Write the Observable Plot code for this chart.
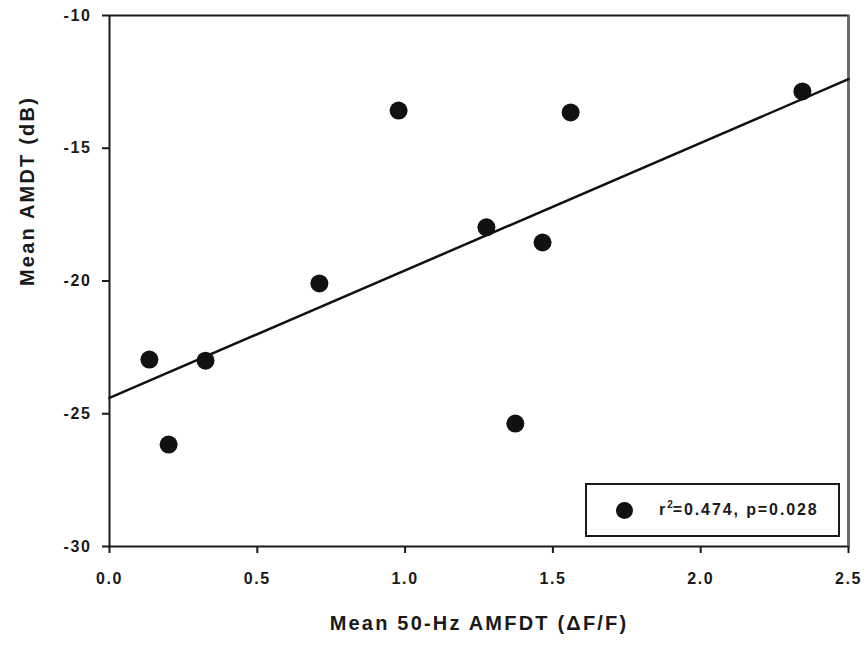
<!DOCTYPE html>
<html>
<head>
<meta charset="utf-8">
<script src="https://cdn.jsdelivr.net/npm/d3@7"></script>
<script src="https://cdn.jsdelivr.net/npm/@observablehq/plot@0.6"></script>
<style>
  body { margin: 0; background: #fff; }
  #wrap { position: relative; width: 867px; height: 650px; font-family: "Liberation Sans", Arial, sans-serif; }
  #wrap svg text { letter-spacing: 1.6px; }
  #wrap svg .ttl text, #wrap svg text.ttl { letter-spacing: 2.2px; }
  #legend {
    position: absolute; left: 585px; top: 483px; width: 251px; height: 50px;
    border: 2px solid #1a1a1a; background: #fff; box-sizing: content-box;
    font-weight: bold; font-size: 16px; color: #1a1a1a; letter-spacing: 1.9px;
  }
  #legend .dot { position: absolute; left: 29px; top: 17px; width: 17px; height: 17px; border-radius: 50%; background: #111; }
  #legend .lbl { position: absolute; left: 72px; top: 15px; white-space: nowrap; }
  #legend sup { font-size: 10px; letter-spacing: 0; position: relative; top: -1px; }
</style>
</head>
<body>
<div id="wrap"></div>
<script>
// Data
const xVals = [0.135, 0.20, 0.325, 0.71, 0.978, 1.275, 1.373, 1.465, 1.56, 2.344];
const yVals = [-22.96, -26.16, -23.0, -20.09, -13.58, -17.98, -25.37, -18.55, -13.65, -12.86];
const fitX = [0, 2.5];
const fitY = [-24.4, -12.4];
const xTicks = [0, 0.5, 1.0, 1.5, 2.0, 2.5];
const yTicks = [-30, -25, -20, -15, -10];
const xTickLabels = ["0.0", "0.5", "1.0", "1.5", "2.0", "2.5"];
const yTickLabels = ["-30", "-25", "-20", "-15", "-10"];
const xTitle = "Mean 50-Hz AMFDT (\u0394F/F)";
const yTitle = "Mean AMDT (dB)";
const legendText = ["r", "2", "=0.474, p=0.028"];

const points = xVals.map((x, i) => ({x, y: yVals[i]}));
const fit = fitX.map((x, i) => ({x, y: fitY[i]}));

const chart = Plot.plot({
  width: 867,
  height: 650,
  marginLeft: 109,
  marginRight: 19,
  marginTop: 15,
  marginBottom: 104,
  style: {fontFamily: "Liberation Sans, Arial, sans-serif", background: "#fff", color: "#1a1a1a"},
  x: {domain: [0, 2.5]},
  y: {domain: [-30, -10]},
  marks: [
    Plot.frame({stroke: "#1a1a1a", strokeWidth: 2}),
    Plot.ruleX([xTicks[xTicks.length - 1]], {stroke: "#666", strokeWidth: 2.5, y1: -30, y2: -10}),
    Plot.axisX({
      ticks: xTicks, tickFormat: d => xTickLabels[xTicks.indexOf(d)], tickSize: 7, tickPadding: 19,
      strokeWidth: 2, stroke: "#1a1a1a", fontSize: 16, fontWeight: "bold", label: null
    }),
    Plot.axisY({
      ticks: yTicks, tickFormat: d => yTickLabels[yTicks.indexOf(d)], tickSize: 7, tickPadding: 11,
      strokeWidth: 2, stroke: "#1a1a1a", fontSize: 16, fontWeight: "bold", label: null
    }),
    Plot.line(fit, {x: "x", y: "y", stroke: "#111", strokeWidth: 2.5}),
    Plot.dot(points, {x: "x", y: "y", r: 9, fill: "#111", stroke: "none"}),
    Plot.text([xTitle], {
      text: d => d, frameAnchor: "bottom", dy: 77.5, lineAnchor: "middle",
      fontSize: 20, fontWeight: "bold", fill: "#1a1a1a", className: "ttl"
    }),
    Plot.text([yTitle], {
      text: d => d, frameAnchor: "left", dx: -82, dy: 5, rotate: -90, lineAnchor: "middle",
      fontSize: 20, fontWeight: "bold", fill: "#1a1a1a", className: "ttl"
    })
  ]
});

const wrap = document.getElementById("wrap");
wrap.appendChild(chart);

const legend = document.createElement("div");
legend.id = "legend";
legend.innerHTML = `<span class="dot"></span><span class="lbl">${legendText[0]}<sup>${legendText[1]}</sup>${legendText[2]}</span>`;
wrap.appendChild(legend);
</script>
</body>
</html>
